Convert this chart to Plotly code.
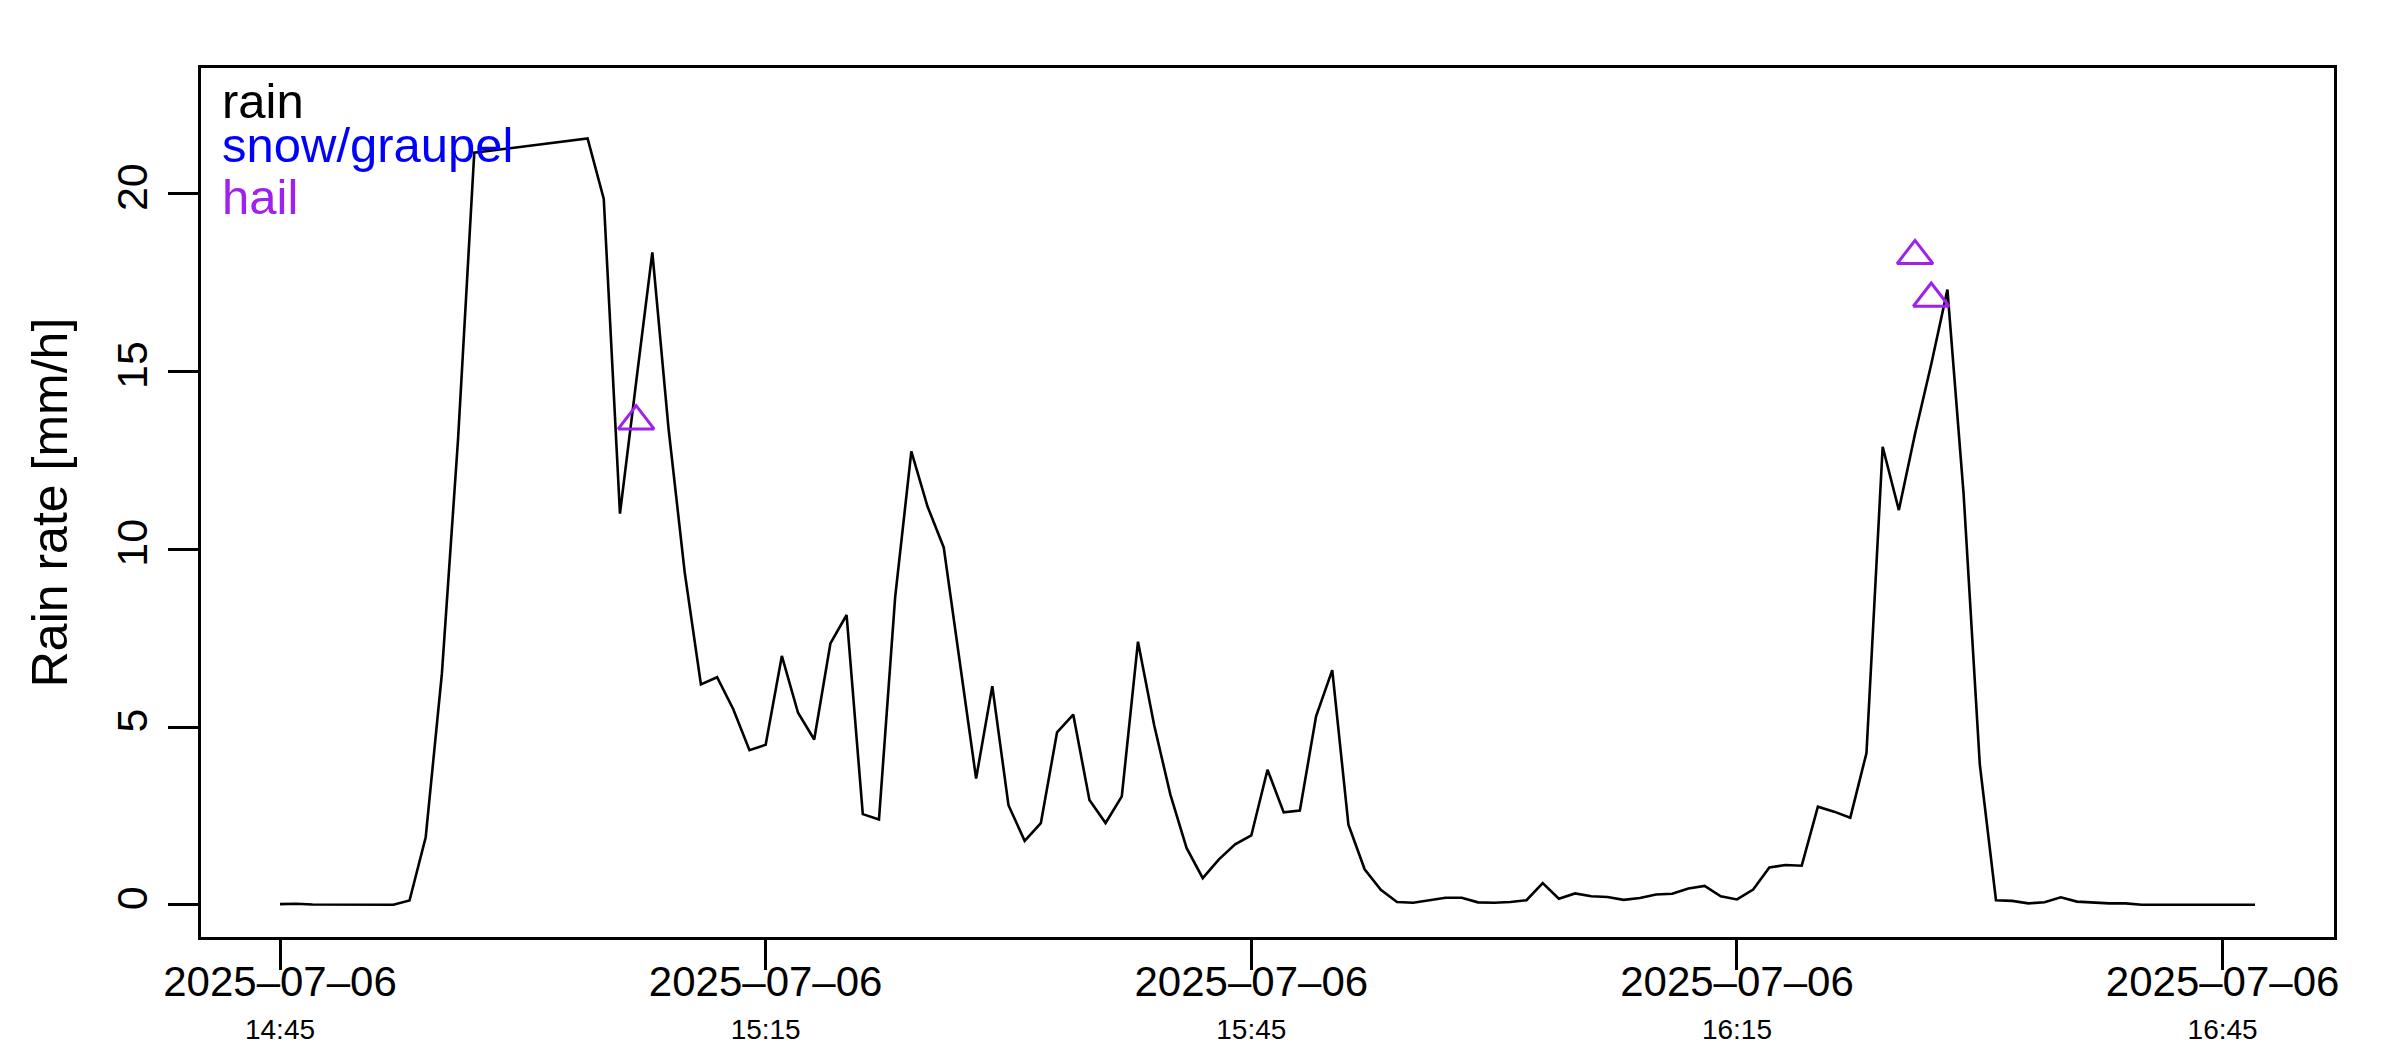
import plotly.graph_objects as go
import pandas as pd

# rain gauge / disdrometer record, 1-minute steps (gap 14:58-15:03)
day = "2025-07-06"
rain_time = [
    "14:45", "14:46", "14:47", "14:48", "14:49", "14:50", "14:51", "14:52", "14:53", "14:54",
    "14:55", "14:56", "14:57", "15:04", "15:05", "15:06", "15:07", "15:08", "15:09", "15:10",
    "15:11", "15:12", "15:13", "15:14", "15:15", "15:16", "15:17", "15:18", "15:19", "15:20",
    "15:21", "15:22", "15:23", "15:24", "15:25", "15:26", "15:27", "15:28", "15:29", "15:30",
    "15:31", "15:32", "15:33", "15:34", "15:35", "15:36", "15:37", "15:38", "15:39", "15:40",
    "15:41", "15:42", "15:43", "15:44", "15:45", "15:46", "15:47", "15:48", "15:49", "15:50",
    "15:51", "15:52", "15:53", "15:54", "15:55", "15:56", "15:57", "15:58", "15:59", "16:00",
    "16:01", "16:02", "16:03", "16:04", "16:05", "16:06", "16:07", "16:08", "16:09", "16:10",
    "16:11", "16:12", "16:13", "16:14", "16:15", "16:16", "16:17", "16:18", "16:19", "16:20",
    "16:21", "16:22", "16:23", "16:24", "16:25", "16:26", "16:27", "16:28", "16:29", "16:30",
    "16:31", "16:32", "16:33", "16:34", "16:35", "16:36", "16:37", "16:38", "16:39", "16:40",
    "16:41", "16:42", "16:43", "16:44", "16:45", "16:46", "16:47",
]
rain_rate = [
    0.02, 0.03, 0.01, 0.01, 0.0, 0.0, 0.0, 0.0, 0.12, 1.9,
    6.5, 13.1, 21.15, 21.55, 19.85, 11.0, 14.7, 18.35, 13.4, 9.35,
    6.2, 6.4, 5.5, 4.35, 4.5, 7.0, 5.4, 4.65, 7.35, 8.15,
    2.55, 2.4, 8.65, 12.75, 11.2, 10.05, 6.8, 3.55, 6.15, 2.8,
    1.8, 2.3, 4.85, 5.35, 2.95, 2.3, 3.05, 7.4, 5.05, 3.1,
    1.6, 0.75, 1.28, 1.7, 1.95, 3.8, 2.6, 2.65, 5.3, 6.6,
    2.25, 1.0, 0.42, 0.08, 0.06, 0.14, 0.2, 0.2, 0.07, 0.06,
    0.08, 0.13, 0.61, 0.17, 0.32, 0.24, 0.22, 0.14, 0.19, 0.29,
    0.31, 0.46, 0.53, 0.24, 0.15, 0.43, 1.05, 1.12, 1.1, 2.76,
    2.62, 2.45, 4.27, 12.88, 11.1, 13.25, 15.2, 17.3, 11.55, 3.95,
    0.13, 0.11, 0.04, 0.07, 0.21, 0.09, 0.06, 0.04, 0.04, 0.0,
    0.0, 0.0, 0.02, 0.0, 0.0, 0.0, 0.0,
]
hail_time = ["15:07", "16:26", "16:27"]
hail_rate = [13.6, 18.25, 17.05]

legend_labels = ["rain", "snow/graupel", "hail"]
legend_colors = ["black", "blue", "#A020F0"]
tick_times = ["14:45", "15:15", "15:45", "16:15", "16:45"]

FONT = "Liberation Sans, Arial, Helvetica, sans-serif"

t_rain = pd.to_datetime([f"{day} {t}" for t in rain_time])
t_hail = pd.to_datetime([f"{day} {t}" for t in hail_time])
t_ticks = pd.to_datetime([f"{day} {t}" for t in tick_times])

# R-style axis ranges: data range padded by 4 % on each side, ylim = c(0, 1.05*max)
x_pad = (t_rain.max() - t_rain.min()) * 0.04
x_range = [t_rain.min() - x_pad, t_rain.max() + x_pad]
y_top = max(rain_rate) * 1.05
y_range = [-0.04 * y_top, y_top * 1.04]

fig = go.Figure()

fig.add_trace(go.Scatter(
    x=t_rain, y=rain_rate, mode="lines",
    line=dict(color="black", width=2.6),
    name="rain", showlegend=False,
))
fig.add_trace(go.Scatter(
    x=t_hail, y=hail_rate, mode="markers",
    marker=dict(symbol="triangle-up-open", size=31, color="#A020F0",
                line=dict(width=3, color="#A020F0")),
    name="hail", showlegend=False,
))

tick_text = [
    f"<span style='font-size:42px'>{day.replace('-', '\u2013')}</span>"
    f"<br><span style='font-size:28px'>{t}</span>"
    for t in tick_times
]

# text-only legend in the top-left corner, one colour per class
legend_y = [0.962, 0.911, 0.852]
for label, color, ly in zip(legend_labels, legend_colors, legend_y):
    fig.add_annotation(
        text=label, xref="paper", yref="paper", x=0.009, y=ly,
        xanchor="left", yanchor="middle", showarrow=False,
        font=dict(family=FONT, size=49, color=color),
    )

fig.update_layout(
    width=2400, height=1050,
    paper_bgcolor="white", plot_bgcolor="white",
    margin=dict(l=193, r=74, t=60, b=121),
    font=dict(family=FONT, color="black"),
    showlegend=False,
    xaxis=dict(
        type="date", range=x_range,
        tickvals=t_ticks, ticktext=tick_text,
        tickfont=dict(size=33),
        ticklabelstandoff=-14,
        ticks="outside", ticklen=30, tickwidth=3, tickcolor="black",
        showline=True, mirror=True, linecolor="black", linewidth=3,
        showgrid=False, zeroline=False,
    ),
    yaxis=dict(
        range=y_range,
        tickvals=[0, 5, 10, 15, 20],
        tickangle=-90,
        tickfont=dict(size=43),
        ticklabelstandoff=4,
        ticks="outside", ticklen=30, tickwidth=3, tickcolor="black",
        showline=True, mirror=True, linecolor="black", linewidth=3,
        showgrid=False, zeroline=False,
        title=dict(text="Rain rate [mm/h]", font=dict(size=50), standoff=25),
    ),
)

fig.write_html("out.html")
